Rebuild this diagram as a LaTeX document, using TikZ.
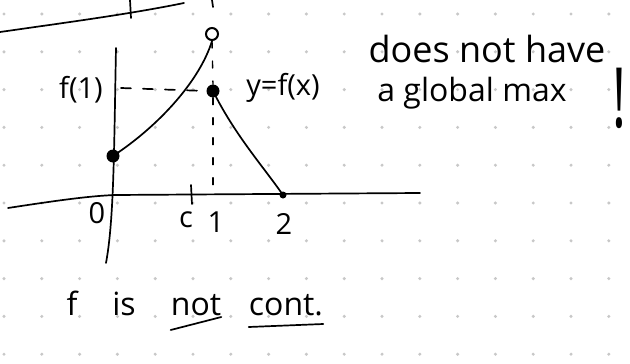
\documentclass[tikz,border=0pt]{standalone}
\usepackage{fontspec}
\setmainfont{Open Sans}
\usepackage{tikz}
\definecolor{nb@ink}{RGB}{0, 0, 0}
\definecolor{nb@dot}{RGB}{200, 200, 200}

\begin{document}
\begin{tikzpicture}[x=1pt, y=-1pt,
  gdot/.style  = {fill=nb@dot, draw=none},
  ink/.style   = {draw=nb@ink, line width=1.7pt, line cap=round, line join=round},
  dsh/.style   = {ink, dash pattern=on 10pt off 12pt},
  vdsh/.style  = {ink, line width=1.4pt, dash pattern=on 7pt off 13pt},
  hand/.style  = {font=\fontsize{32}{36}\selectfont, inner sep=0pt, anchor=base},
  lab/.style   = {font=\fontsize{29}{32}\selectfont, inner sep=0pt},
  full/.style  = {circle, fill=nb@ink, minimum size=13pt, inner sep=0pt},
  hole/.style  = {circle, draw=nb@ink, fill=white, line width=2pt,
                  minimum size=12pt, inner sep=0pt},
]
  \useasboundingbox (0,0) rectangle (630,364);
  \foreach \i in {0,...,16}
    \foreach \j in {0,...,9}
      \fill[gdot] (4+37.8*\i, 14+37.8*\j) circle (1.7pt);

  \coordinate (tl)   at (0,32);
  \coordinate (tr)   at (184,3);
  \coordinate (ytop) at (116,48);
  \coordinate (ybot) at (106,263);
  \coordinate (xl)   at (8,208);
  \coordinate (xr)   at (420,193);
  \coordinate (one)  at (213,195);
  \coordinate (cup)  at (191,185);
  \coordinate (cdn)  at (192,204);
  \coordinate (f1l)  at (121,88);

  \node[full]            (yint) at (113,156) {};
  \node[hole]            (open) at (212,34)  {};
  \node[full]            (top)  at (213,91)  {};
  \node[full, minimum size=7pt] (two) at (283,195) {};

  \node[lab, anchor=east] (lf1)  at (103,90)  {f(1)};
  \node[lab]              (lyf)  at (283,88)  {y=f(x)};
  \node[lab]              (l0)   at (97,213)  {0};
  \node[lab]              (lc)   at (186,220) {c};
  \node[lab]              (l1)   at (216,222) {1};
  \node[lab]              (l2)   at (284,224) {2};

  \node[hand, font=\fontsize{36}{40}\selectfont] (dnh) at (487,63) {does not have};
  \node[hand] (agm)  at (472,101) {a global max};
  \node[hand, font=\fontsize{52}{56}\selectfont] (bang) at (619,127) {\scalebox{1}[1.6]{!}};

  \node[hand] (wf)   at (72,315)  {f};
  \node[hand] (wis)  at (124,315) {is};
  \node[hand] (wnot) at (196,315) {not};
  \node[hand] (wcon) at (286,315) {cont.};

  \draw[ink] (tl) .. controls (70,22) and (130,14) .. (tr);
  \draw[ink] (130,0) -- (131,18);
  \draw[ink] (212,0) -- (213,7);

  \draw[ink] (ytop) .. controls (114,150) and (114,220) .. (ybot);
  \draw[ink] (xl) .. controls (60,200) and (90,196) .. (115,195) -- (xr);
  \draw[ink] (cup) -- (cdn);

  \draw[ink] (yint.center) .. controls (160,125) and (200,80) .. (open.south);
  \draw[ink] (top.center) .. controls (235,135) and (262,165) .. (two.center);

  \draw[dsh]  (f1l) -- (top.west);
  \draw[vdsh] (open.south) -- (top.north);
  \draw[vdsh] (top.south) -- (one);

  \draw[ink] ([yshift=-15pt]wnot.base west) -- ([yshift=-2pt]wnot.base east);
  \draw[ink] ([yshift=-12pt]wcon.base west) -- ([yshift=-9pt]wcon.base east);
\end{tikzpicture}
\end{document}
